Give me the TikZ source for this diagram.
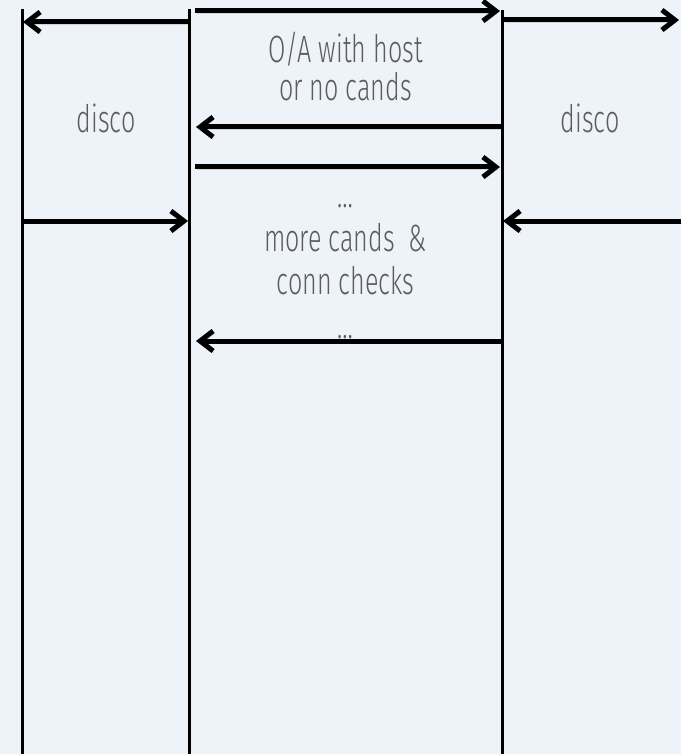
\documentclass[tikz,border=0pt]{standalone}
\usepackage{fontspec}
\setmainfont{Fira Sans}[UprightFont={* Light}, FakeStretch=0.66]
\usetikzlibrary{arrows.meta}
\definecolor{bgblue}{HTML}{EEF2F9}
\definecolor{txtgray}{HTML}{5C5C5C}
\begin{document}
\begin{tikzpicture}[x=1pt, y=-1pt, >={Straight Barb[length=13pt,width=20pt]},
    shade/.style={preaction={draw=black, opacity=0.12, transform canvas={shift={(1.5pt,-2.5pt)}}}},
    lifeline/.style={line width=3pt, shade},
    msg/.style={->, line width=5pt, shade},
    lbl/.style={text=txtgray, align=center, font=\fontsize{38}{38}\selectfont}]
    \fill[bgblue] (0,0) rectangle (681,754);
    \useasboundingbox (0,0) rectangle (681,754);
    % lifelines
    \coordinate (atop) at (22,9);   \coordinate (abot) at (22,754);
    \coordinate (btop) at (189,9);  \coordinate (bbot) at (189,754);
    \coordinate (ctop) at (502,10); \coordinate (cbot) at (502,754);
    \draw[lifeline] (atop) -- (abot);
    \draw[lifeline] (btop) -- (bbot);
    \draw[lifeline] (ctop) -- (cbot);
    % labels (base = last line)
    \node[lbl, anchor=base] (offer) at (345.5,101) {O/A with host\\or no cands};
    \node[lbl, anchor=base] (discoa) at (106,133) {disco};
    \node[lbl, anchor=base] (discod) at (590,133) {disco};
    \node[lbl, anchor=base, font=\fontsize{38}{43.5}\selectfont] (checks) at (345.5,338)
        {…\\more cands~~\&\\conn checks\\…};
    % messages
    \coordinate (m1s) at (195,11);  \coordinate (m1e) at (500,11);
    \coordinate (m2s) at (503,20);  \coordinate (m2e) at (679,20);
    \coordinate (m3s) at (189,22);  \coordinate (m3e) at (23,22);
    \coordinate (m4s) at (502,127); \coordinate (m4e) at (196,127);
    \coordinate (m5s) at (195,167); \coordinate (m5e) at (500,167);
    \coordinate (m6s) at (22,221);  \coordinate (m6e) at (188,221);
    \coordinate (m7s) at (681,221); \coordinate (m7e) at (503,221);
    \coordinate (m8s) at (502,341); \coordinate (m8e) at (196,341);
    \foreach \m in {1,...,8}
        \draw[msg] (m\m s) -- (m\m e);
\end{tikzpicture}
\end{document}
